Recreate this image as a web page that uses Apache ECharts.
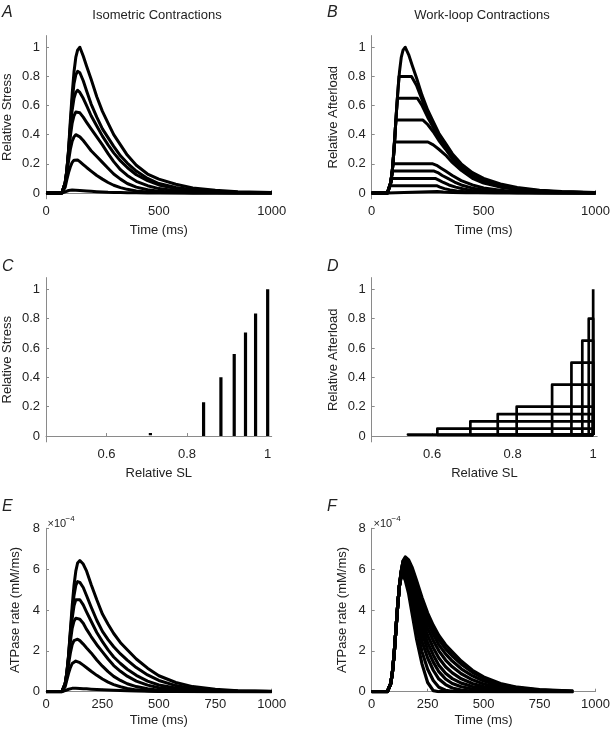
<!DOCTYPE html>
<html><head><meta charset="utf-8">
<script src="https://cdn.jsdelivr.net/npm/echarts@6/dist/echarts.min.js"></script>
<style>html,body{margin:0;padding:0;background:#fff}#c{width:613px;height:730px}</style>
</head><body><div id="c"></div>
<script>
// ---------- DATA ----------
const timeMs  = [0,70,78,85,92,100,108,116,124,132,140,150,165,180,200,225,250,275,300,330,360,400,450,500,575,650,750,850,1000];
const timeMsF = [0,70,78,85,92,100,108,116,124,132,140,150,165,180,200,225,250,275,300,330,360,400,450,500,575,650,750,900];

// Panel A: isometric relative stress
const isoA1 = [0,0,0.01,0.07,0.15,0.3,0.5,0.68,0.83,0.93,0.98,1.0,0.94,0.87,0.78,0.66,0.56,0.48,0.4,0.33,0.26,0.19,0.13,0.095,0.06,0.035,0.018,0.009,0.003];
const isoA2 = [0,0,0.01,0.07,0.15,0.29,0.47,0.63,0.75,0.81,0.835,0.825,0.77,0.7,0.61,0.52,0.44,0.38,0.32,0.255,0.205,0.15,0.1,0.065,0.038,0.022,0.011,0.005,0.002];
const isoA3 = [0,0,0.01,0.07,0.15,0.28,0.44,0.57,0.65,0.69,0.705,0.69,0.65,0.6,0.53,0.46,0.39,0.33,0.275,0.22,0.175,0.125,0.085,0.055,0.03,0.017,0.008,0.004,0.001];
const isoA4 = [0,0,0.01,0.07,0.15,0.27,0.39,0.48,0.53,0.555,0.56,0.55,0.52,0.485,0.44,0.385,0.33,0.27,0.215,0.16,0.12,0.08,0.05,0.03,0.015,0.008,0.003,0.001,0];
const isoA5 = [0,0,0.01,0.06,0.13,0.22,0.3,0.355,0.385,0.4,0.398,0.385,0.36,0.33,0.29,0.25,0.21,0.17,0.13,0.095,0.065,0.04,0.022,0.012,0.005,0.002,0.001,0,0];
const isoA6 = [0,0,0.005,0.04,0.09,0.14,0.18,0.21,0.225,0.23,0.226,0.215,0.195,0.175,0.15,0.12,0.095,0.072,0.053,0.037,0.025,0.014,0.007,0.003,0.001,0,0,0,0];
const isoA7 = [0,0,0.002,0.008,0.013,0.017,0.019,0.02,0.02,0.019,0.018,0.017,0.015,0.013,0.011,0.009,0.007,0.005,0.004,0.003,0.002,0.001,0,0,0,0,0,0,0];

// Panel B: work-loop relative afterload  ([time ms, afterload])
const wlIso = [0,0,0.01,0.07,0.15,0.3,0.5,0.68,0.83,0.93,0.98,1.0,0.95,0.88,0.79,0.67,0.57,0.49,0.41,0.34,0.27,0.2,0.14,0.1,0.062,0.037,0.019,0.01,0.003];
const wl080 = [[0,0],[70,0],[78,0.01],[85,0.07],[92,0.15],[100,0.3],[108,0.5],[116,0.68],[122,0.8],[178,0.8],[200,0.74],[225,0.64],[250,0.54],[275,0.46],[300,0.39],[330,0.32],[360,0.25],[400,0.18],[450,0.12],[500,0.085],[575,0.05],[650,0.03],[750,0.015],[850,0.007],[1000,0.002]];
const wl065 = [[0,0],[70,0],[78,0.01],[85,0.07],[92,0.15],[100,0.3],[108,0.5],[115,0.65],[204,0.65],[225,0.6],[250,0.52],[275,0.45],[300,0.38],[330,0.31],[360,0.245],[400,0.175],[450,0.115],[500,0.08],[575,0.047],[650,0.028],[750,0.014],[850,0.006],[1000,0.002]];
const wl050 = [[0,0],[70,0],[78,0.01],[85,0.07],[92,0.15],[100,0.3],[108,0.5],[229,0.5],[250,0.47],[275,0.42],[300,0.36],[330,0.3],[360,0.235],[400,0.17],[450,0.11],[500,0.075],[575,0.044],[650,0.026],[750,0.013],[850,0.006],[1000,0.002]];
const wl035 = [[0,0],[70,0],[78,0.01],[85,0.07],[92,0.15],[101,0.35],[251,0.35],[275,0.33],[300,0.3],[330,0.26],[360,0.21],[400,0.155],[450,0.1],[500,0.068],[575,0.04],[650,0.023],[750,0.011],[850,0.005],[1000,0.002]];
const wl020 = [[0,0],[70,0],[78,0.01],[85,0.07],[95,0.2],[273,0.2],[290,0.19],[310,0.17],[330,0.15],[360,0.12],[400,0.085],[450,0.055],[500,0.035],[575,0.018],[650,0.009],[750,0.004],[850,0.002],[1000,0]];
const wl015 = [[0,0],[70,0],[78,0.01],[85,0.07],[92,0.15],[279,0.15],[295,0.14],[315,0.12],[340,0.1],[370,0.075],[400,0.055],[450,0.033],[500,0.02],[575,0.01],[650,0.005],[750,0.002],[1000,0]];
const wl010 = [[0,0],[70,0],[78,0.01],[85,0.07],[88,0.1],[284,0.1],[300,0.088],[320,0.072],[345,0.055],[375,0.04],[410,0.027],[450,0.017],[500,0.01],[575,0.005],[650,0.002],[1000,0]];
const wl005 = [[0,0],[70,0],[78,0.01],[83,0.05],[290,0.05],[305,0.04],[325,0.03],[350,0.021],[380,0.014],[420,0.008],[470,0.004],[550,0.001],[1000,0]];
const wl001 = [[0,0],[70,0],[78,0.01],[293,0.01],[320,0.006],[360,0.003],[420,0.001],[1000,0]];

// Panel C: stress range at each relative SL
const cSL    = [0.709, 0.841, 0.884, 0.917, 0.945, 0.970, 1.0];
const cLow   = [0.005, 0, 0, 0, 0, 0, 0];
const cHigh  = [0.02, 0.23, 0.40, 0.56, 0.705, 0.835, 1.0];

// Panel D: work loops (afterload level, minimum relative SL)
const dLevel = [1.0, 0.8, 0.65, 0.5, 0.35, 0.2, 0.15, 0.1, 0.05, 0.01];
const dMinSL = [1.0, 0.989, 0.973, 0.946, 0.898, 0.81, 0.763, 0.695, 0.613, 0.54];
const dRest  = 0.008;

// Panel E: ATPase rate, isometric (units of 1e-4 mM/ms)
const atpE1 = [0,0,0.05,0.4,0.9,1.8,3.0,4.2,5.2,5.9,6.3,6.42,6.25,5.9,5.25,4.5,3.8,3.3,2.85,2.4,2.05,1.6,1.15,0.78,0.45,0.25,0.12,0.05,0.02];
const atpE2 = [0,0,0.05,0.4,0.9,1.75,2.9,3.9,4.7,5.2,5.39,5.35,5.1,4.7,4.15,3.5,2.95,2.55,2.2,1.85,1.55,1.18,0.82,0.55,0.3,0.16,0.07,0.03,0.01];
const atpE3 = [0,0,0.05,0.4,0.9,1.7,2.75,3.6,4.2,4.5,4.57,4.5,4.25,3.9,3.45,2.9,2.45,2.05,1.7,1.38,1.1,0.8,0.52,0.33,0.18,0.09,0.04,0.02,0.01];
const atpE4 = [0,0,0.05,0.4,0.85,1.6,2.45,3.1,3.45,3.6,3.62,3.55,3.35,3.05,2.7,2.3,1.95,1.6,1.28,1.0,0.76,0.52,0.32,0.19,0.09,0.045,0.02,0.01,0];
const atpE5 = [0,0,0.05,0.35,0.75,1.35,1.9,2.3,2.5,2.58,2.57,2.5,2.33,2.14,1.9,1.55,1.25,0.98,0.75,0.55,0.39,0.25,0.14,0.075,0.03,0.01,0,0,0];
const atpE6 = [0,0,0.04,0.25,0.55,0.9,1.18,1.38,1.47,1.5,1.48,1.42,1.3,1.17,1.0,0.8,0.62,0.47,0.35,0.24,0.16,0.09,0.045,0.02,0.01,0,0,0,0];
const atpE7 = [0,0,0.01,0.05,0.09,0.12,0.15,0.165,0.17,0.168,0.165,0.16,0.15,0.14,0.125,0.11,0.095,0.08,0.068,0.055,0.045,0.033,0.022,0.015,0.008,0.004,0.002,0.001,0];

// Panel F: ATPase rate, work loops (units of 1e-4 mM/ms)
const atpF1  = [0,0,0.05,0.4,0.9,1.8,3.0,4.2,5.2,5.9,6.4,6.6,6.45,6.1,5.45,4.6,3.85,3.25,2.75,2.3,1.95,1.5,1.05,0.72,0.4,0.22,0.1,0.03];
const atpF2  = [0,0,0.05,0.4,0.9,1.8,3.0,4.2,5.2,5.9,6.4,6.55,6.35,5.95,5.25,4.4,3.65,3.05,2.55,2.1,1.75,1.35,0.95,0.65,0.36,0.19,0.08,0.02];
const atpF3  = [0,0,0.05,0.4,0.9,1.8,3.0,4.2,5.2,5.9,6.35,6.45,6.2,5.75,5.0,4.15,3.4,2.8,2.3,1.85,1.5,1.12,0.78,0.52,0.28,0.14,0.06,0.02];
const atpF4  = [0,0,0.05,0.4,0.9,1.8,3.0,4.2,5.2,5.9,6.3,6.35,6.05,5.55,4.75,3.85,3.1,2.5,2.0,1.55,1.22,0.88,0.58,0.38,0.2,0.1,0.04,0.01];
const atpF5  = [0,0,0.05,0.4,0.9,1.8,3.0,4.2,5.2,5.85,6.2,6.25,5.9,5.35,4.5,3.55,2.75,2.15,1.65,1.22,0.92,0.63,0.4,0.25,0.12,0.06,0.02,0.01];
const atpF6  = [0,0,0.05,0.4,0.9,1.8,3.0,4.2,5.2,5.8,6.1,6.1,5.7,5.1,4.2,3.2,2.4,1.8,1.3,0.9,0.64,0.42,0.25,0.15,0.07,0.03,0.01,0];
const atpF7  = [0,0,0.05,0.4,0.9,1.8,3.0,4.2,5.2,5.75,6.0,5.95,5.5,4.85,3.9,2.85,2.05,1.45,0.98,0.62,0.4,0.24,0.13,0.07,0.03,0.01,0,0];
const atpF8  = [0,0,0.05,0.4,0.9,1.8,3.0,4.2,5.2,5.7,5.9,5.8,5.3,4.55,3.55,2.45,1.65,1.05,0.62,0.35,0.18,0.08,0.03,0.01,0,0,0,0];
const atpF9  = [0,0,0.05,0.4,0.9,1.8,3.0,4.2,5.2,5.65,5.8,5.6,5.05,4.2,3.1,1.95,1.1,0.55,0.22,0.07,0.02,0,0,0,0,0,0,0];
const atpF10 = [0,0,0.05,0.4,0.9,1.8,3.0,4.2,5.2,5.6,5.7,5.45,4.8,3.85,2.6,1.35,0.45,0.05,0,0,0,0,0,0,0,0,0,0];

// tick labels
const relTicks   = [0, 0.2, 0.4, 0.6, 0.8, 1];
const slTicks    = [0.6, 0.8, 1];
const timeTicks  = [0, 500, 1000];
const timeTicksE = [0, 250, 500, 750, 1000];
const atpTicks   = [0, 2, 4, 6, 8];

// ---------- CHART ----------
const FONT = '"Liberation Sans", Arial, Helvetica, sans-serif';
const AXC = '#8a8a8a', TXT = '#222';
const chart = echarts.init(document.getElementById('c'), null, {renderer: 'canvas'});

const grids = [
  {left: 46,    top: 35.6,  width: 225.7, height: 163.2},
  {left: 371.7, top: 35.6,  width: 225.5, height: 163.2},
  {left: 46,    top: 277.6, width: 225.7, height: 164.3},
  {left: 371.7, top: 277.6, width: 225.5, height: 164.3},
  {left: 46,    top: 528.3, width: 225.7, height: 163.4},
  {left: 371.7, top: 528.3, width: 225.5, height: 163.4}
];
const fmt = v => String(v);

function xAx(gi, min, max, ticks, name, gap) {
  return {type: 'value', gridIndex: gi, min: min, max: max,
    name: name, nameLocation: 'middle', nameGap: gap,
    nameTextStyle: {color: TXT, fontSize: 13, fontFamily: FONT},
    axisLine: {show: true, lineStyle: {color: AXC, width: 1}},
    axisTick: {show: true, inside: true, length: 3, customValues: ticks, lineStyle: {color: AXC}},
    axisLabel: {show: true, customValues: ticks, formatter: fmt, margin: 6, color: TXT, fontSize: 13, fontFamily: FONT},
    splitLine: {show: false}};
}
function yAx(gi, min, max, ticks, name, gap) {
  return {type: 'value', gridIndex: gi, min: min, max: max,
    name: name, nameLocation: 'middle', nameGap: gap, nameRotate: 90,
    nameTextStyle: {color: TXT, fontSize: 13, fontFamily: FONT},
    axisLine: {show: true, lineStyle: {color: AXC, width: 1}},
    axisTick: {show: true, inside: true, length: 3, customValues: ticks, lineStyle: {color: AXC}},
    axisLabel: {show: true, customValues: ticks, formatter: fmt, margin: 6, color: TXT, fontSize: 13, fontFamily: FONT},
    splitLine: {show: false}};
}

const xAxes = [
  xAx(0, 0, 1000, timeTicks, 'Time (ms)', 25),
  xAx(1, 0, 1000, timeTicks, 'Time (ms)', 25),
  xAx(2, 0.45, 1.01, slTicks, 'Relative SL', 25),
  xAx(3, 0.45, 1.01, slTicks, 'Relative SL', 25),
  xAx(4, 0, 1000, timeTicksE, 'Time (ms)', 22),
  xAx(5, 0, 1000, timeTicksE, 'Time (ms)', 22)
];
const yAxes = [
  yAx(0, -0.04, 1.08, relTicks, 'Relative Stress', 32),
  yAx(1, -0.04, 1.08, relTicks, 'Relative Afterload', 32),
  yAx(2, -0.04, 1.08, relTicks, 'Relative Stress', 32),
  yAx(3, -0.04, 1.08, relTicks, 'Relative Afterload', 32),
  yAx(4, 0, 8, atpTicks, 'ATPase rate (mM/ms)', 24),
  yAx(5, 0, 8, atpTicks, 'ATPase rate (mM/ms)', 23)
];

const series = [];
function addLine(gi, data, w) {
  series.push({type: 'line', xAxisIndex: gi, yAxisIndex: gi, data: data,
    symbol: 'none', smooth: false, silent: true, animation: false,
    lineStyle: {color: '#000', width: w || 3, cap: 'butt', join: 'round'}});
}
function zipT(t, v) { return t.map((x, i) => [x, v[i]]); }

[isoA1, isoA2, isoA3, isoA4, isoA5, isoA6, isoA7].forEach(v => addLine(0, zipT(timeMs, v)));
addLine(1, zipT(timeMs, wlIso));
[wl080, wl065, wl050, wl035, wl020, wl015, wl010, wl005, wl001].forEach(d => addLine(1, d));
cSL.forEach((sl, i) => addLine(2, [[sl, cLow[i]], [sl, cHigh[i]]], 3.2));
dLevel.forEach((L, i) => {
  const s = dMinSL[i];
  if (s >= 1) addLine(3, [[1, dRest], [1, L]], 2.7);
  else addLine(3, [[1, dRest], [1, L], [s, L], [s, dRest], [1, dRest]], 2.7);
});
[atpE1, atpE2, atpE3, atpE4, atpE5, atpE6, atpE7].forEach(v => addLine(4, zipT(timeMs, v)));
[atpF1, atpF2, atpF3, atpF4, atpF5, atpF6, atpF7, atpF8, atpF9, atpF10].forEach(v => addLine(5, zipT(timeMsF, v), 3.2));

function txt(x, y, s, size, opts) {
  return Object.assign({type: 'text', x: x, y: y, silent: true,
    style: Object.assign({text: s, fill: TXT, fontSize: size, fontFamily: FONT,
      textAlign: 'left', textVerticalAlign: 'middle'}, opts || {})});
}
const graphics = [
  txt(2, 13, 'A', 16, {fontStyle: 'italic'}),
  txt(327, 13, 'B', 16, {fontStyle: 'italic'}),
  txt(2, 267, 'C', 16, {fontStyle: 'italic'}),
  txt(327, 267, 'D', 16, {fontStyle: 'italic'}),
  txt(2, 507, 'E', 16, {fontStyle: 'italic'}),
  txt(327, 507, 'F', 16, {fontStyle: 'italic'}),
  txt(157, 15, 'Isometric Contractions', 13, {textAlign: 'center'}),
  txt(482, 15, 'Work-loop Contractions', 13, {textAlign: 'center'}),
  txt(47.5, 524, '×10', 11),
  txt(65.5, 518.5, '−4', 8),
  txt(373.5, 524, '×10', 11),
  txt(391.5, 518.5, '−4', 8)
];

chart.setOption({
  animation: false,
  backgroundColor: '#fff',
  grid: grids,
  xAxis: xAxes,
  yAxis: yAxes,
  series: series,
  graphic: graphics
});
</script></body></html>
